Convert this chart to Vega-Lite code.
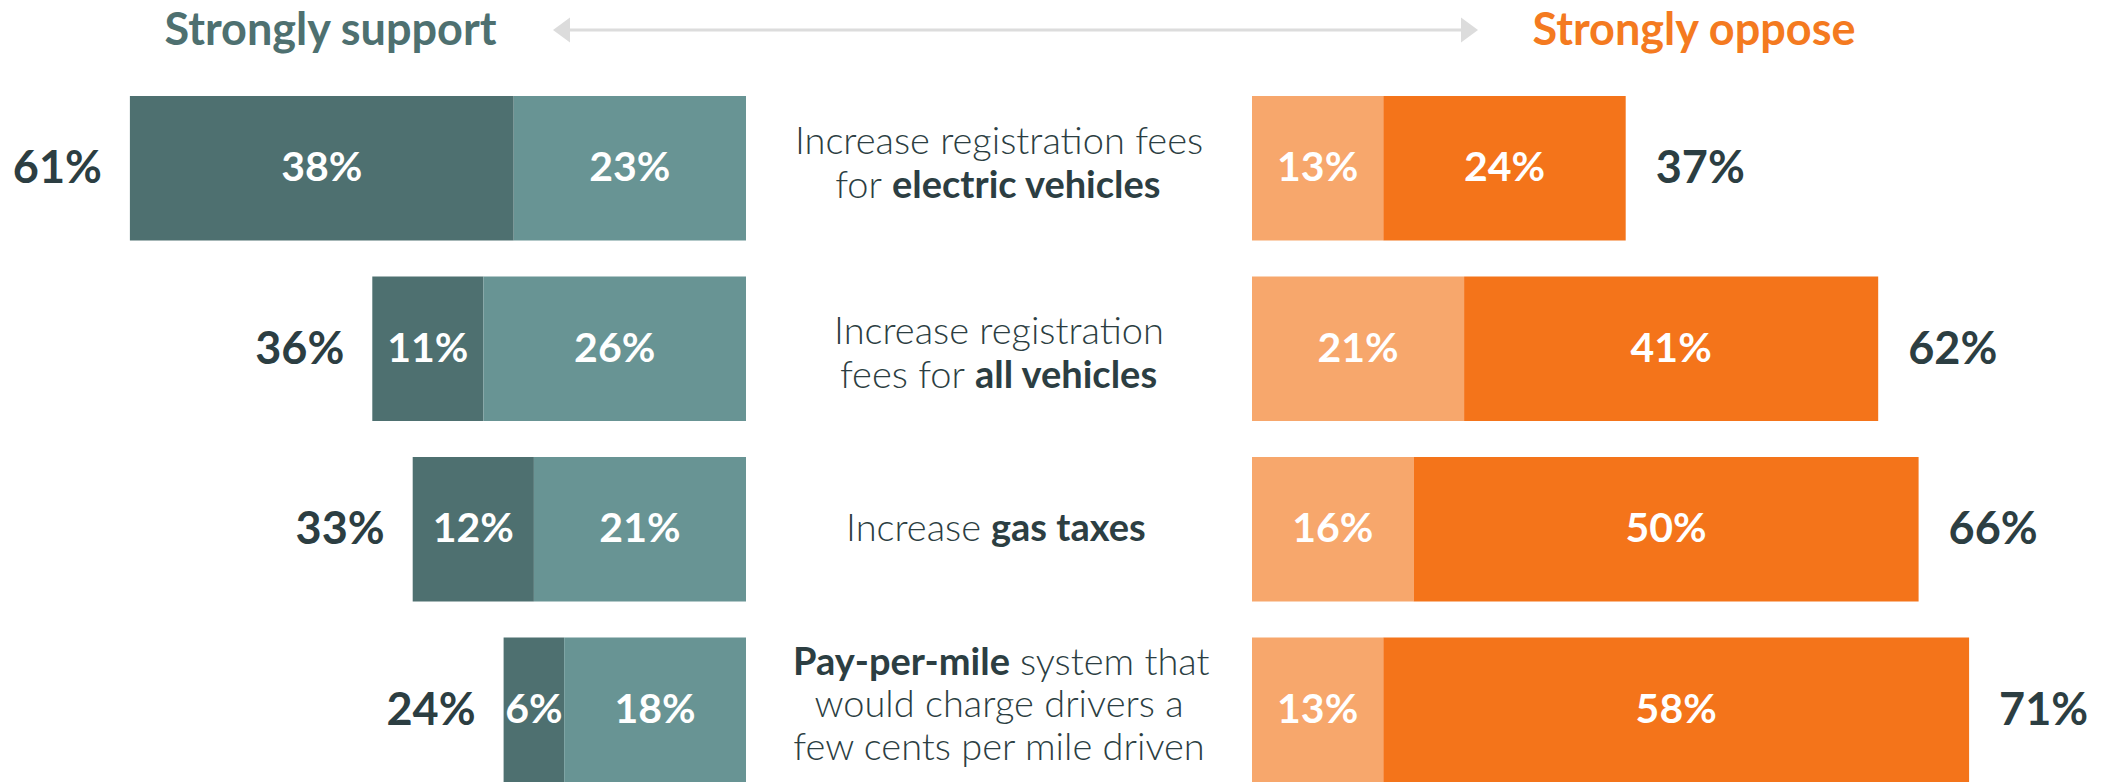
{
  "$schema": "https://vega.github.io/schema/vega-lite/v6.json",
  "padding": 0,
  "bounds": "flush",
  "spacing": 0,
  "config": {
    "view": {"stroke": null},
    "text": {"font": "Lato"},
    "concat": {"spacing": 0}
  },
  "datasets": {
    "segments": [
      {"q": "Increase registration fees for electric vehicles", "side": "support", "level": "Strongly support", "value": 0.38, "total": 0.61},
      {"q": "Increase registration fees for electric vehicles", "side": "support", "level": "Somewhat support", "value": 0.23, "total": 0.61},
      {"q": "Increase registration fees for all vehicles", "side": "support", "level": "Strongly support", "value": 0.11, "total": 0.36},
      {"q": "Increase registration fees for all vehicles", "side": "support", "level": "Somewhat support", "value": 0.26, "total": 0.36},
      {"q": "Increase gas taxes", "side": "support", "level": "Strongly support", "value": 0.12, "total": 0.33},
      {"q": "Increase gas taxes", "side": "support", "level": "Somewhat support", "value": 0.21, "total": 0.33},
      {"q": "Pay-per-mile system that would charge drivers a few cents per mile driven", "side": "support", "level": "Strongly support", "value": 0.06, "total": 0.24},
      {"q": "Pay-per-mile system that would charge drivers a few cents per mile driven", "side": "support", "level": "Somewhat support", "value": 0.18, "total": 0.24},
      {"q": "Increase registration fees for electric vehicles", "side": "oppose", "level": "Somewhat oppose", "value": 0.13, "total": 0.37},
      {"q": "Increase registration fees for electric vehicles", "side": "oppose", "level": "Strongly oppose", "value": 0.24, "total": 0.37},
      {"q": "Increase registration fees for all vehicles", "side": "oppose", "level": "Somewhat oppose", "value": 0.21, "total": 0.62},
      {"q": "Increase registration fees for all vehicles", "side": "oppose", "level": "Strongly oppose", "value": 0.41, "total": 0.62},
      {"q": "Increase gas taxes", "side": "oppose", "level": "Somewhat oppose", "value": 0.16, "total": 0.66},
      {"q": "Increase gas taxes", "side": "oppose", "level": "Strongly oppose", "value": 0.50, "total": 0.66},
      {"q": "Pay-per-mile system that would charge drivers a few cents per mile driven", "side": "oppose", "level": "Somewhat oppose", "value": 0.13, "total": 0.71},
      {"q": "Pay-per-mile system that would charge drivers a few cents per mile driven", "side": "oppose", "level": "Strongly oppose", "value": 0.58, "total": 0.71}
    ]
  },
  "vconcat": [
    {
      "width": 2118,
      "height": 60,
      "data": {"values": [{"label": "Strongly support", "side": "support"}, {"label": "Strongly oppose", "side": "oppose"}]},
      "layer": [
        {
          "transform": [{"filter": "datum.side === 'support'"}],
          "mark": {"type": "rule", "color": "#dcdcdc", "strokeWidth": 3},
          "encoding": {
            "x": {"datum": 0.5599, "type": "quantitative", "scale": {"domain": [0, 2.09703], "nice": false, "zero": false}, "axis": null},
            "x2": {"datum": 1.451}
          }
        },
        {
          "transform": [{"filter": "datum.side === 'support'"}],
          "mark": {"type": "point", "shape": "M-1,0L0.36,-1L0.36,1Z", "filled": true, "size": 625, "color": "#dcdcdc", "opacity": 1},
          "encoding": {
            "x": {"datum": 0.5599, "type": "quantitative", "scale": {"domain": [0, 2.09703], "nice": false, "zero": false}, "axis": null}
          }
        },
        {
          "transform": [{"filter": "datum.side === 'support'"}],
          "mark": {"type": "point", "shape": "M1,0L-0.36,-1L-0.36,1Z", "filled": true, "size": 625, "color": "#dcdcdc", "opacity": 1},
          "encoding": {
            "x": {"datum": 1.451, "type": "quantitative", "scale": {"domain": [0, 2.09703], "nice": false, "zero": false}, "axis": null}
          }
        },
        {
          "transform": [{"filter": "datum.side === 'support'"}],
          "mark": {"type": "text", "fontSize": 45, "fontWeight": "bold", "color": "#4e7070", "dy": 1, "align": "center", "baseline": "middle"},
          "encoding": {
            "x": {"datum": 0.3272, "type": "quantitative", "scale": {"domain": [0, 2.09703], "nice": false, "zero": false}, "axis": null},
            "text": {"field": "label"}
          }
        },
        {
          "transform": [{"filter": "datum.side === 'oppose'"}],
          "mark": {"type": "text", "fontSize": 45, "fontWeight": "bold", "color": "#f47a20", "dy": 1, "align": "center", "baseline": "middle"},
          "encoding": {
            "x": {"datum": 1.6772, "type": "quantitative", "scale": {"domain": [0, 2.09703], "nice": false, "zero": false}, "axis": null},
            "text": {"field": "label"}
          }
        }
      ]
    },
    {
      "spacing": 0,
      "resolve": {"scale": {"color": "independent", "x": "independent"}},
      "hconcat": [
        {
          "width": 746,
          "height": 722,
          "data": {"name": "segments"},
          "transform": [{"filter": "datum.side === 'support'"}],
          "encoding": {
            "y": {
              "field": "q", "type": "nominal", "axis": null,
              "scale": {"type": "band", "domain": ["Increase registration fees for electric vehicles", "Increase registration fees for all vehicles", "Increase gas taxes", "Pay-per-mile system that would charge drivers a few cents per mile driven"], "paddingInner": 0.2, "paddingOuter": 0.1, "align": 1}
            }
          },
          "layer": [
            {
              "mark": {"type": "bar"},
              "encoding": {
                "x": {"field": "value", "type": "quantitative", "stack": "zero", "scale": {"domain": [0, 0.73861], "reverse": true, "nice": false}, "axis": null},
                "color": {"field": "level", "type": "nominal", "scale": {"domain": ["Strongly support", "Somewhat support"], "range": ["#4e7070", "#689494"]}, "legend": null},
                "order": {"field": "level", "type": "nominal"}
              }
            },
            {
              "mark": {"type": "text", "fontSize": 41, "fontWeight": "bold", "color": "#ffffff", "align": "center", "baseline": "middle", "dy": 1},
              "encoding": {
                "x": {"field": "value", "type": "quantitative", "stack": "zero", "bandPosition": 0.5},
                "detail": {"field": "level", "type": "nominal"},
                "order": {"field": "level", "type": "nominal"},
                "text": {"field": "value", "type": "quantitative", "format": ".0%"}
              }
            },
            {
              "transform": [{"aggregate": [{"op": "sum", "field": "value", "as": "end"}, {"op": "max", "field": "total", "as": "total"}], "groupby": ["q"]}],
              "mark": {"type": "text", "fontSize": 45, "fontWeight": "bold", "color": "#2c3e42", "align": "right", "baseline": "middle", "dx": -28, "dy": 1},
              "encoding": {
                "x": {"field": "end", "type": "quantitative"},
                "text": {"field": "total", "type": "quantitative", "format": ".0%"}
              }
            }
          ]
        },
        {
          "width": 506,
          "height": 722,
          "encoding": {
            "y": {
              "field": "q", "type": "nominal", "axis": null,
              "scale": {"type": "band", "domain": ["Increase registration fees for electric vehicles", "Increase registration fees for all vehicles", "Increase gas taxes", "Pay-per-mile system that would charge drivers a few cents per mile driven"], "paddingInner": 0.2, "paddingOuter": 0.1, "align": 1}
            },
            "text": {"field": "t"}
          },
          "layer": [
            {
              "data": {"values": [{"q": "Increase registration fees for electric vehicles", "t": "Increase registration fees"}]},
              "mark": {"type": "text", "fontSize": 38, "fontWeight": 300, "color": "#2c3e42", "align": "center", "baseline": "middle", "dy": -25}
            },
            {
              "data": {"values": [{"q": "Increase registration fees for electric vehicles", "t": "for"}]},
              "mark": {"type": "text", "fontSize": 38, "fontWeight": 300, "color": "#2c3e42", "align": "right", "baseline": "middle", "dx": -117, "dy": 19}
            },
            {
              "data": {"values": [{"q": "Increase registration fees for electric vehicles", "t": "electric vehicles"}]},
              "mark": {"type": "text", "fontSize": 38, "fontWeight": "bold", "color": "#2c3e42", "align": "left", "baseline": "middle", "dx": -107, "dy": 19}
            },
            {
              "data": {"values": [{"q": "Increase registration fees for all vehicles", "t": "Increase registration"}]},
              "mark": {"type": "text", "fontSize": 38, "fontWeight": 300, "color": "#2c3e42", "align": "center", "baseline": "middle", "dy": -16}
            },
            {
              "data": {"values": [{"q": "Increase registration fees for all vehicles", "t": "fees for"}]},
              "mark": {"type": "text", "fontSize": 38, "fontWeight": 300, "color": "#2c3e42", "align": "right", "baseline": "middle", "dx": -34, "dy": 28}
            },
            {
              "data": {"values": [{"q": "Increase registration fees for all vehicles", "t": "all vehicles"}]},
              "mark": {"type": "text", "fontSize": 38, "fontWeight": "bold", "color": "#2c3e42", "align": "left", "baseline": "middle", "dx": -24, "dy": 28}
            },
            {
              "data": {"values": [{"q": "Increase gas taxes", "t": "Increase"}]},
              "mark": {"type": "text", "fontSize": 38, "fontWeight": 300, "color": "#2c3e42", "align": "right", "baseline": "middle", "dx": -18, "dy": 1}
            },
            {
              "data": {"values": [{"q": "Increase gas taxes", "t": "gas taxes"}]},
              "mark": {"type": "text", "fontSize": 38, "fontWeight": "bold", "color": "#2c3e42", "align": "left", "baseline": "middle", "dx": -8, "dy": 1}
            },
            {
              "data": {"values": [{"q": "Pay-per-mile system that would charge drivers a few cents per mile driven", "t": "Pay-per-mile"}]},
              "mark": {"type": "text", "fontSize": 38, "fontWeight": "bold", "color": "#2c3e42", "align": "right", "baseline": "middle", "dx": 11, "dy": -46}
            },
            {
              "data": {"values": [{"q": "Pay-per-mile system that would charge drivers a few cents per mile driven", "t": "system that"}]},
              "mark": {"type": "text", "fontSize": 38, "fontWeight": 300, "color": "#2c3e42", "align": "left", "baseline": "middle", "dx": 21, "dy": -46}
            },
            {
              "data": {"values": [{"q": "Pay-per-mile system that would charge drivers a few cents per mile driven", "t": "would charge drivers a"}]},
              "mark": {"type": "text", "fontSize": 38, "fontWeight": 300, "color": "#2c3e42", "align": "center", "baseline": "middle", "dy": -4}
            },
            {
              "data": {"values": [{"q": "Pay-per-mile system that would charge drivers a few cents per mile driven", "t": "few cents per mile driven"}]},
              "mark": {"type": "text", "fontSize": 38, "fontWeight": 300, "color": "#2c3e42", "align": "center", "baseline": "middle", "dy": 39}
            }
          ]
        },
        {
          "width": 866,
          "height": 722,
          "data": {"name": "segments"},
          "transform": [{"filter": "datum.side === 'oppose'"}],
          "encoding": {
            "y": {
              "field": "q", "type": "nominal", "axis": null,
              "scale": {"type": "band", "domain": ["Increase registration fees for electric vehicles", "Increase registration fees for all vehicles", "Increase gas taxes", "Pay-per-mile system that would charge drivers a few cents per mile driven"], "paddingInner": 0.2, "paddingOuter": 0.1, "align": 1}
            }
          },
          "layer": [
            {
              "mark": {"type": "bar"},
              "encoding": {
                "x": {"field": "value", "type": "quantitative", "stack": "zero", "scale": {"domain": [0, 0.85743], "nice": false}, "axis": null},
                "color": {"field": "level", "type": "nominal", "scale": {"domain": ["Somewhat oppose", "Strongly oppose"], "range": ["#f7a76c", "#f4741a"]}, "legend": null},
                "order": {"field": "level", "type": "nominal"}
              }
            },
            {
              "mark": {"type": "text", "fontSize": 41, "fontWeight": "bold", "color": "#ffffff", "align": "center", "baseline": "middle", "dy": 1},
              "encoding": {
                "x": {"field": "value", "type": "quantitative", "stack": "zero", "bandPosition": 0.5},
                "detail": {"field": "level", "type": "nominal"},
                "order": {"field": "level", "type": "nominal"},
                "text": {"field": "value", "type": "quantitative", "format": ".0%"}
              }
            },
            {
              "transform": [{"aggregate": [{"op": "sum", "field": "value", "as": "end"}, {"op": "max", "field": "total", "as": "total"}], "groupby": ["q"]}],
              "mark": {"type": "text", "fontSize": 45, "fontWeight": "bold", "color": "#2c3e42", "align": "left", "baseline": "middle", "dx": 30, "dy": 1},
              "encoding": {
                "x": {"field": "end", "type": "quantitative"},
                "text": {"field": "total", "type": "quantitative", "format": ".0%"}
              }
            }
          ]
        }
      ]
    }
  ]
}
